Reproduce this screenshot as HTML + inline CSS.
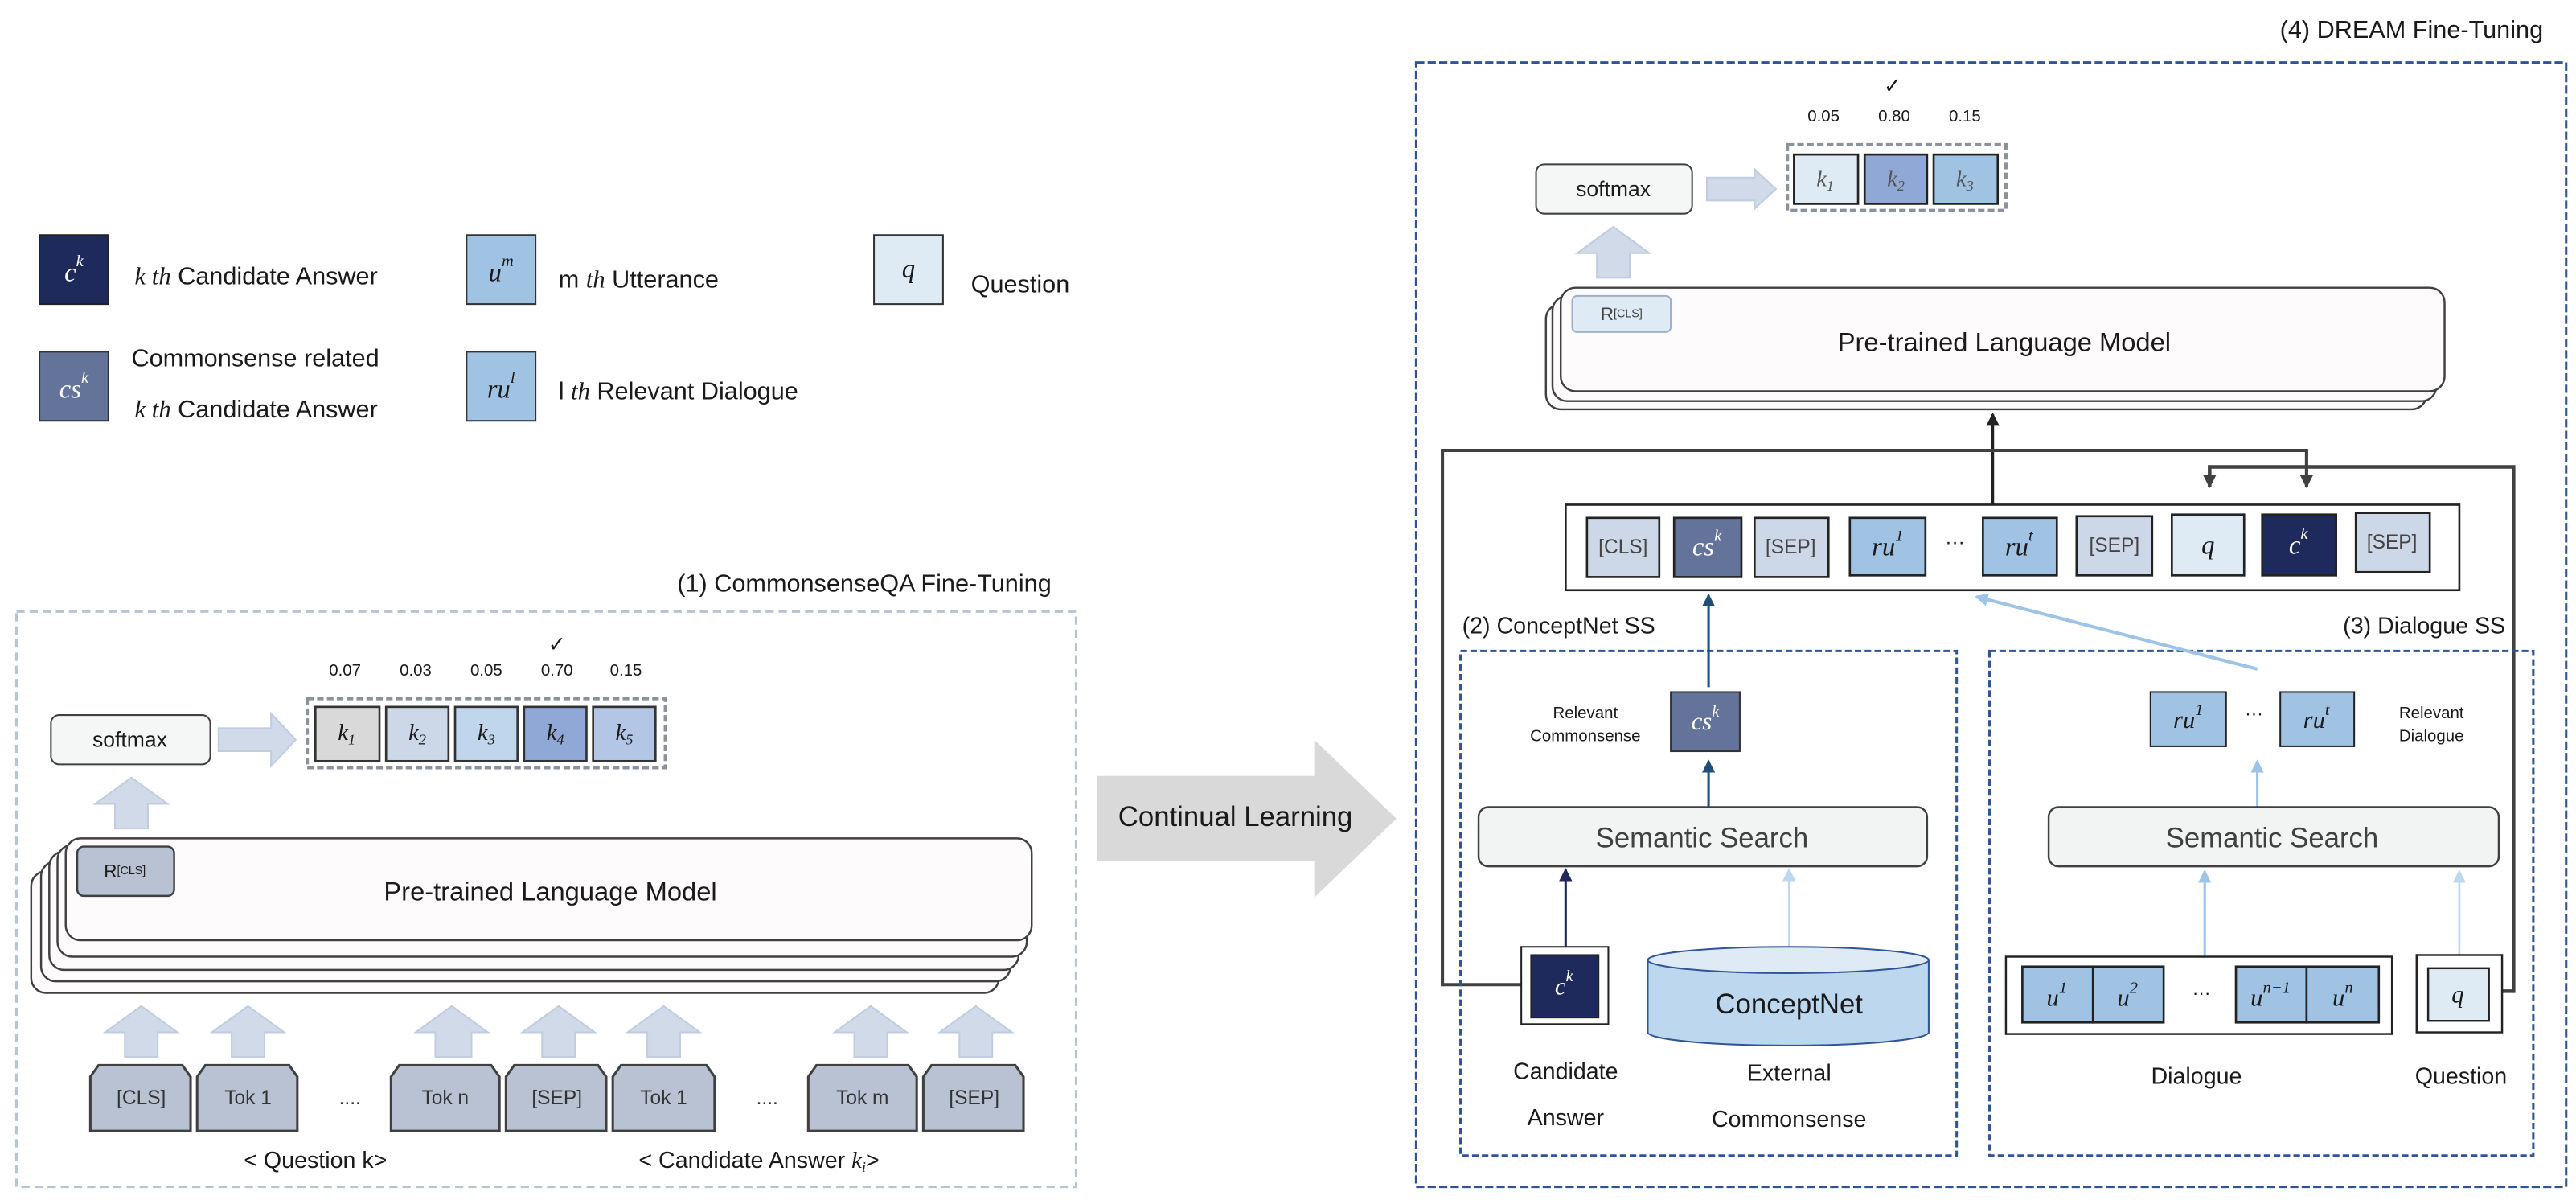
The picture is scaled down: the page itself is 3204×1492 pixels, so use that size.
<!DOCTYPE html>
<html><head><meta charset="utf-8"><style>
html,body{margin:0;padding:0;background:#fff;}
svg{display:block;}
text{font-family:"Liberation Sans",sans-serif;fill:#1a1a1a;}
.m{font-family:"Liberation Serif",serif;font-style:italic;}
</style></head><body>
<svg width="3204" height="1492" viewBox="0 0 1568 730" preserveAspectRatio="none" xmlns="http://www.w3.org/2000/svg">
<defs>
<marker id="ab" markerWidth="8" markerHeight="8" refX="7" refY="4" orient="auto" markerUnits="userSpaceOnUse"><path d="M0,0 L8,4 L0,8 z" fill="#222"/></marker>
<marker id="ag" markerWidth="8" markerHeight="8" refX="7" refY="4" orient="auto" markerUnits="userSpaceOnUse"><path d="M0,0 L8,4 L0,8 z" fill="#404040"/></marker>
<marker id="an" markerWidth="8" markerHeight="8" refX="7" refY="4" orient="auto" markerUnits="userSpaceOnUse"><path d="M0,0 L8,4 L0,8 z" fill="#1f2a5c"/></marker>
<marker id="abl" markerWidth="8" markerHeight="8" refX="7" refY="4" orient="auto" markerUnits="userSpaceOnUse"><path d="M0,0 L8,4 L0,8 z" fill="#1f4e79"/></marker>
<marker id="al" markerWidth="8" markerHeight="8" refX="7" refY="4" orient="auto" markerUnits="userSpaceOnUse"><path d="M0,0 L8,4 L0,8 z" fill="#9dc3e6"/></marker>
<marker id="all" markerWidth="8" markerHeight="8" refX="7" refY="4" orient="auto" markerUnits="userSpaceOnUse"><path d="M0,0 L8,4 L0,8 z" fill="#bdd7ee"/></marker>
</defs>

<!-- Legend -->
<rect x="24" y="143" width="42" height="42" fill="#1f2a5c" stroke="#222" stroke-width="1"/>
<text x="45" y="166" text-anchor="middle" dominant-baseline="central" class="m" font-size="16" style="fill:#fff">c<tspan font-size="10" dy="-7">k</tspan></text>
<text x="82" y="168" font-size="15" dominant-baseline="central"><tspan class="m">k th</tspan> Candidate Answer</text>
<rect x="24" y="214" width="42" height="42" fill="#64739a" stroke="#333" stroke-width="1"/>
<text x="45" y="237" text-anchor="middle" dominant-baseline="central" class="m" font-size="16" style="fill:#fff">cs<tspan font-size="10" dy="-7">k</tspan></text>
<text x="80" y="218" font-size="15" dominant-baseline="central">Commonsense related</text>
<text x="82" y="249" font-size="15" dominant-baseline="central"><tspan class="m">k th</tspan> Candidate Answer</text>
<rect x="284" y="143" width="42" height="42" fill="#a0c3e4" stroke="#333" stroke-width="1"/>
<text x="305" y="166" text-anchor="middle" dominant-baseline="central" class="m" font-size="16">u<tspan font-size="10" dy="-7">m</tspan></text>
<text x="340" y="170" font-size="15" dominant-baseline="central">m <tspan class="m">th</tspan> Utterance</text>
<rect x="284" y="214" width="42" height="42" fill="#a0c3e4" stroke="#333" stroke-width="1"/>
<text x="305" y="237" text-anchor="middle" dominant-baseline="central" class="m" font-size="16">ru<tspan font-size="10" dy="-7">l</tspan></text>
<text x="340" y="238" font-size="15" dominant-baseline="central">l <tspan class="m">th</tspan> Relevant Dialogue</text>
<rect x="532" y="143" width="42" height="42" fill="#deebf5" stroke="#333" stroke-width="1"/>
<text x="553" y="164" text-anchor="middle" dominant-baseline="central" class="m" font-size="16">q</text>
<text x="591" y="173" font-size="15" dominant-baseline="central">Question</text>

<!-- Panel 1 -->
<text x="640" y="355" text-anchor="end" font-size="15" dominant-baseline="central">(1) CommonsenseQA Fine-Tuning</text>
<rect x="10" y="372" width="645" height="350" fill="none" stroke="#b8c4d4" stroke-width="1.5" stroke-dasharray="5,3"/>
<rect x="31" y="435" width="97" height="30" rx="5" fill="#f5f6f6" stroke="#404040"/>
<text x="79" y="450" text-anchor="middle" dominant-baseline="central" font-size="13">softmax</text>
<path d="M133,443 L165,443 L165,434 L180,450 L165,466 L165,457 L133,457 z" fill="#d0dae8" stroke="#c0cce0"/>
<rect x="187" y="425" width="218" height="42" fill="none" stroke="#8c929c" stroke-width="2" stroke-dasharray="4,2"/>
<g stroke="#333" stroke-width="1.3">
<rect x="192" y="430" width="39" height="33" fill="#d9d9d9"/>
<rect x="235" y="430" width="38" height="33" fill="#ccd8e8"/>
<rect x="277" y="430" width="38" height="33" fill="#bfd6ec"/>
<rect x="319" y="430" width="38" height="33" fill="#8fa8d6"/>
<rect x="361" y="430" width="38" height="33" fill="#b3c6e6"/>
</g>
<g class="m" font-size="14" text-anchor="middle" dominant-baseline="central" style="fill:#555">
<text x="211" y="446" class="m">k<tspan font-size="9" dy="4">1</tspan></text>
<text x="254" y="446" class="m">k<tspan font-size="9" dy="4">2</tspan></text>
<text x="296" y="446" class="m">k<tspan font-size="9" dy="4">3</tspan></text>
<text x="338" y="446" class="m">k<tspan font-size="9" dy="4">4</tspan></text>
<text x="380" y="446" class="m">k<tspan font-size="9" dy="4">5</tspan></text>
</g>
<g font-size="10" text-anchor="middle" dominant-baseline="central">
<text x="210" y="408">0.07</text><text x="253" y="408">0.03</text><text x="296" y="408">0.05</text><text x="339" y="408">0.70</text><text x="381" y="408">0.15</text>
<text x="339" y="392" font-size="13">✓</text>
</g>
<path d="M70,504 L70,489 L58,489 L80,473 L102,489 L90,489 L90,504 z" fill="#d0dae8" stroke="#c0cce0"/>
<!-- PLM stack -->
<g fill="#fdfbfb" stroke="#404040" stroke-width="1.2">
<rect x="19" y="530" width="589" height="74" rx="9"/>
<rect x="25" y="524" width="590" height="73" rx="9"/>
<rect x="30" y="518" width="590" height="72" rx="9"/>
<rect x="35" y="514" width="590" height="68" rx="9"/>
<rect x="40" y="510" width="588" height="62" rx="9"/>
</g>
<rect x="47" y="515" width="59" height="30" rx="4" fill="#b8c2d2" stroke="#404040" stroke-width="1.2"/>
<text x="76" y="530" text-anchor="middle" dominant-baseline="central" font-size="11">R<tspan font-size="7">[CLS]</tspan></text>
<text x="335" y="542" text-anchor="middle" dominant-baseline="central" font-size="16">Pre-trained Language Model</text>
<!-- up arrows -->
<g fill="#d0dae8" stroke="#c0cce0">
<path d="M76,643 L76,628 L64,628 L86,612 L108,628 L96,628 L96,643 z"/>
<path d="M141,643 L141,628 L129,628 L151,612 L173,628 L161,628 L161,643 z"/>
<path d="M265,643 L265,628 L253,628 L275,612 L297,628 L287,628 L287,643 z"/>
<path d="M330,643 L330,628 L318,628 L340,612 L362,628 L350,628 L350,643 z"/>
<path d="M394,643 L394,628 L382,628 L404,612 L426,628 L414,628 L414,643 z"/>
<path d="M520,643 L520,628 L508,628 L530,612 L552,628 L540,628 L540,643 z"/>
<path d="M584,643 L584,628 L572,628 L594,612 L616,628 L604,628 L604,643 z"/>
</g>
<g fill="#b8c2d2" stroke="#404040" stroke-width="1.5">
<path d="M60,648 L111,648 L116,655 L116,688 L55,688 L55,655 z"/>
<path d="M125,648 L176,648 L181,655 L181,688 L120,688 L120,655 z"/>
<path d="M243,648 L299,648 L304,655 L304,688 L238,688 L238,655 z"/>
<path d="M313,648 L364,648 L369,655 L369,688 L308,688 L308,655 z"/>
<path d="M378,648 L430,648 L435,655 L435,688 L373,688 L373,655 z"/>
<path d="M497,648 L553,648 L558,655 L558,688 L492,688 L492,655 z"/>
<path d="M567,648 L618,648 L623,655 L623,688 L562,688 L562,655 z"/>
</g>
<g font-size="12" text-anchor="middle" dominant-baseline="central" style="fill:#333">
<text x="86" y="668" style="fill:#333">[CLS]</text><text x="151" y="668" style="fill:#333">Tok 1</text>
<text x="213" y="668" style="fill:#333">....</text>
<text x="271" y="668" style="fill:#333">Tok n</text><text x="339" y="668" style="fill:#333">[SEP]</text>
<text x="404" y="668" style="fill:#333">Tok 1</text><text x="467" y="668" style="fill:#333">....</text>
<text x="525" y="668" style="fill:#333">Tok m</text><text x="593" y="668" style="fill:#333">[SEP]</text>
</g>
<text x="192" y="706" text-anchor="middle" dominant-baseline="central" font-size="14">&lt; Question k&gt;</text>
<text x="462" y="706" text-anchor="middle" dominant-baseline="central" font-size="14">&lt; Candidate Answer <tspan class="m">k<tspan font-size="9" dy="4">i</tspan></tspan><tspan dy="-4">&gt;</tspan></text>

<!-- Continual Learning arrow -->
<path d="M668,472 L800,472 L800,450 L850,498 L800,546 L800,524 L668,524 z" fill="#d9d9d9"/>
<text x="752" y="497" text-anchor="middle" dominant-baseline="central" font-size="17">Continual Learning</text>

<!-- Panel 4 -->
<text x="1548" y="18" text-anchor="end" font-size="15" dominant-baseline="central">(4) DREAM Fine-Tuning</text>
<rect x="862" y="38" width="700" height="684" fill="none" stroke="#2f5597" stroke-width="1.5" stroke-dasharray="5,2"/>
<rect x="935" y="100" width="95" height="30" rx="5" fill="#f5f6f6" stroke="#404040"/>
<text x="982" y="115" text-anchor="middle" dominant-baseline="central" font-size="13">softmax</text>
<path d="M1039,108 L1068,108 L1068,103 L1081,115 L1068,127 L1068,122 L1039,122 z" fill="#d0dae8" stroke="#c0cce0"/>
<rect x="1088" y="88" width="133" height="40" fill="none" stroke="#8c929c" stroke-width="2" stroke-dasharray="4,2"/>
<g stroke="#222" stroke-width="1.3">
<rect x="1092" y="94" width="39" height="30" fill="#deebf5"/>
<rect x="1135" y="94" width="38" height="30" fill="#8fa8d6"/>
<rect x="1177" y="94" width="39" height="30" fill="#a0c3e4"/>
</g>
<g font-size="14" text-anchor="middle" dominant-baseline="central">
<text x="1111" y="109" class="m" style="fill:#555">k<tspan font-size="9" dy="4">1</tspan></text>
<text x="1154" y="109" class="m" style="fill:#555">k<tspan font-size="9" dy="4">2</tspan></text>
<text x="1196" y="109" class="m" style="fill:#555">k<tspan font-size="9" dy="4">3</tspan></text>
</g>
<g font-size="10" text-anchor="middle" dominant-baseline="central">
<text x="1110" y="71">0.05</text><text x="1153" y="71">0.80</text><text x="1196" y="71">0.15</text>
<text x="1152" y="52" font-size="13">✓</text>
</g>
<path d="M972,169 L972,154 L960,154 L982,138 L1004,154 L992,154 L992,169 z" fill="#d0dae8" stroke="#c0cce0"/>
<g fill="#fdfbfb" stroke="#404040" stroke-width="1.2">
<rect x="941" y="185" width="536" height="64" rx="9"/>
<rect x="945" y="180" width="538" height="64" rx="9"/>
<rect x="950" y="175" width="538" height="63" rx="9"/>
</g>
<rect x="957" y="180" width="60" height="22" rx="3" fill="#deebf5" stroke="#a0b0c8"/>
<text x="987" y="191" text-anchor="middle" dominant-baseline="central" font-size="11" style="fill:#444">R<tspan font-size="7">[CLS]</tspan></text>
<text x="1220" y="208" text-anchor="middle" dominant-baseline="central" font-size="16">Pre-trained Language Model</text>

<!-- connectors -->
<line x1="1213" y1="307" x2="1213" y2="252" stroke="#222" stroke-width="1.6" marker-end="url(#ab)"/>
<polyline points="928,599 878,599 878,274 1404,274 1404,296" fill="none" stroke="#404040" stroke-width="2" marker-end="url(#ag)"/>
<polyline points="1523,603 1530,603 1530,284 1345,284 1345,296" fill="none" stroke="#404040" stroke-width="2.2" marker-end="url(#ag)"/>

<rect x="953" y="307" width="544" height="52" fill="#fff" stroke="#222" stroke-width="1.3"/>
<g stroke="#222" stroke-width="1.3">
<rect x="966" y="315" width="44" height="36" fill="#ccd8e8"/>
<rect x="1019" y="315" width="41" height="36" fill="#64739a"/>
<rect x="1068" y="315" width="45" height="36" fill="#ccd8e8"/>
<rect x="1126" y="315" width="46" height="35" fill="#a0c3e4"/>
<rect x="1207" y="315" width="45" height="35" fill="#a0c3e4"/>
<rect x="1264" y="314" width="46" height="36" fill="#ccd8e8"/>
<rect x="1322" y="313" width="44" height="37" fill="#deebf5"/>
<rect x="1377" y="313" width="45" height="37" fill="#1f2a5c"/>
<rect x="1434" y="312" width="45" height="36" fill="#ccd8e8"/>
</g>
<g text-anchor="middle" dominant-baseline="central">
<text x="988" y="333" font-size="12" style="fill:#444">[CLS]</text>
<text x="1039" y="333" class="m" font-size="16" style="fill:#fff">cs<tspan font-size="10" dy="-7">k</tspan></text>
<text x="1090" y="333" font-size="12" style="fill:#444">[SEP]</text>
<text x="1149" y="333" class="m" font-size="16">ru<tspan font-size="10" dy="-7">1</tspan></text>
<text x="1190" y="330" font-size="12">···</text>
<text x="1229" y="333" class="m" font-size="16">ru<tspan font-size="10" dy="-7">t</tspan></text>
<text x="1287" y="332" font-size="12" style="fill:#444">[SEP]</text>
<text x="1344" y="332" class="m" font-size="16">q</text>
<text x="1399" y="332" class="m" font-size="16" style="fill:#fff">c<tspan font-size="10" dy="-7">k</tspan></text>
<text x="1456" y="330" font-size="12" style="fill:#444">[SEP]</text>
</g>

<!-- (2) ConceptNet SS -->
<text x="890" y="381" font-size="14" dominant-baseline="central">(2) ConceptNet SS</text>
<rect x="889" y="396" width="302" height="307" fill="none" stroke="#2f5597" stroke-width="1.5" stroke-dasharray="4,2"/>
<line x1="1040" y1="418" x2="1040" y2="362" stroke="#1f4e79" stroke-width="1.5" marker-end="url(#abl)"/>
<rect x="1017" y="421" width="42" height="36" fill="#64739a" stroke="#333"/>
<text x="1038" y="439" text-anchor="middle" dominant-baseline="central" class="m" font-size="15" style="fill:#fff">cs<tspan font-size="10" dy="-6">k</tspan></text>
<text x="965" y="434" text-anchor="middle" dominant-baseline="central" font-size="10">Relevant</text>
<text x="965" y="448" text-anchor="middle" dominant-baseline="central" font-size="10">Commonsense</text>
<line x1="1040" y1="491" x2="1040" y2="463" stroke="#1f4e79" stroke-width="1.5" marker-end="url(#abl)"/>
<rect x="900" y="491" width="273" height="36" rx="6" fill="#f2f3f3" stroke="#404040" stroke-width="1.2"/>
<text x="1036" y="510" text-anchor="middle" dominant-baseline="central" font-size="17" style="fill:#404040">Semantic Search</text>
<line x1="953" y1="576" x2="953" y2="529" stroke="#1f2a5c" stroke-width="1.5" marker-end="url(#an)"/>
<line x1="1089" y1="576" x2="1089" y2="529" stroke="#bdd7ee" stroke-width="1.2" marker-end="url(#all)"/>
<rect x="926" y="576" width="53" height="47" fill="#fff" stroke="#222"/>
<rect x="932" y="581" width="41" height="38" fill="#1f2a5c" stroke="#222"/>
<text x="952" y="600" text-anchor="middle" dominant-baseline="central" class="m" font-size="15" style="fill:#fff">c<tspan font-size="10" dy="-6">k</tspan></text>
<path d="M1003,584 L1003,628 A85.5,8 0 0 0 1174,628 L1174,584 z" fill="#bdd7ee" stroke="#2f5597"/>
<ellipse cx="1088.5" cy="584" rx="85.5" ry="8" fill="#deebf5" stroke="#2f5597"/>
<text x="1089" y="611" text-anchor="middle" dominant-baseline="central" font-size="17">ConceptNet</text>
<g font-size="14" text-anchor="middle" dominant-baseline="central">
<text x="953" y="652">Candidate</text><text x="953" y="680">Answer</text>
<text x="1089" y="653">External</text><text x="1089" y="681">Commonsense</text>
</g>

<!-- (3) Dialogue SS -->
<text x="1525" y="381" text-anchor="end" font-size="14" dominant-baseline="central">(3) Dialogue SS</text>
<rect x="1211" y="396" width="331" height="307" fill="none" stroke="#2f5597" stroke-width="1.5" stroke-dasharray="4,2"/>
<line x1="1374" y1="407" x2="1203" y2="363" stroke="#9dc3e6" stroke-width="2" marker-end="url(#al)"/>
<rect x="1309" y="421" width="46" height="33" fill="#a0c3e4" stroke="#222"/>
<rect x="1388" y="421" width="45" height="33" fill="#a0c3e4" stroke="#222"/>
<g text-anchor="middle" dominant-baseline="central">
<text x="1332" y="438" class="m" font-size="15">ru<tspan font-size="10" dy="-6">1</tspan></text>
<text x="1372" y="434" font-size="11">···</text>
<text x="1410" y="438" class="m" font-size="15">ru<tspan font-size="10" dy="-6">t</tspan></text>
<text x="1480" y="434" font-size="10">Relevant</text>
<text x="1480" y="448" font-size="10">Dialogue</text>
</g>
<line x1="1374" y1="491" x2="1374" y2="463" stroke="#9dc3e6" stroke-width="1.5" marker-end="url(#al)"/>
<rect x="1247" y="491" width="274" height="36" rx="6" fill="#f2f3f3" stroke="#404040" stroke-width="1.2"/>
<text x="1383" y="510" text-anchor="middle" dominant-baseline="central" font-size="17" style="fill:#404040">Semantic Search</text>
<line x1="1342" y1="582" x2="1342" y2="530" stroke="#9dc3e6" stroke-width="1.5" marker-end="url(#al)"/>
<line x1="1497" y1="581" x2="1497" y2="530" stroke="#bdd7ee" stroke-width="1.3" marker-end="url(#all)"/>
<rect x="1221" y="582" width="235" height="47" fill="#fff" stroke="#222" stroke-width="1.2"/>
<g stroke="#222" stroke-width="1.3" fill="#a0c3e4">
<rect x="1231" y="588" width="43" height="34"/><rect x="1274" y="588" width="43" height="34"/>
<rect x="1361" y="588" width="43" height="34"/><rect x="1404" y="588" width="44" height="34"/>
</g>
<g text-anchor="middle" dominant-baseline="central">
<text x="1252" y="607" class="m" font-size="15">u<tspan font-size="10" dy="-6">1</tspan></text>
<text x="1295" y="607" class="m" font-size="15">u<tspan font-size="10" dy="-6">2</tspan></text>
<text x="1340" y="604" font-size="11">···</text>
<text x="1382" y="607" class="m" font-size="15">u<tspan font-size="10" dy="-6">n−1</tspan></text>
<text x="1426" y="607" class="m" font-size="15">u<tspan font-size="10" dy="-6">n</tspan></text>
</g>
<rect x="1471" y="581" width="52" height="47" fill="#fff" stroke="#222" stroke-width="1.2"/>
<rect x="1478" y="589" width="37" height="32" fill="#deebf5" stroke="#222" stroke-width="1.2"/>
<text x="1496" y="605" text-anchor="middle" dominant-baseline="central" class="m" font-size="15">q</text>
<g font-size="14" text-anchor="middle" dominant-baseline="central">
<text x="1337" y="655">Dialogue</text><text x="1498" y="655">Question</text>
</g>
</svg>
</body></html>
